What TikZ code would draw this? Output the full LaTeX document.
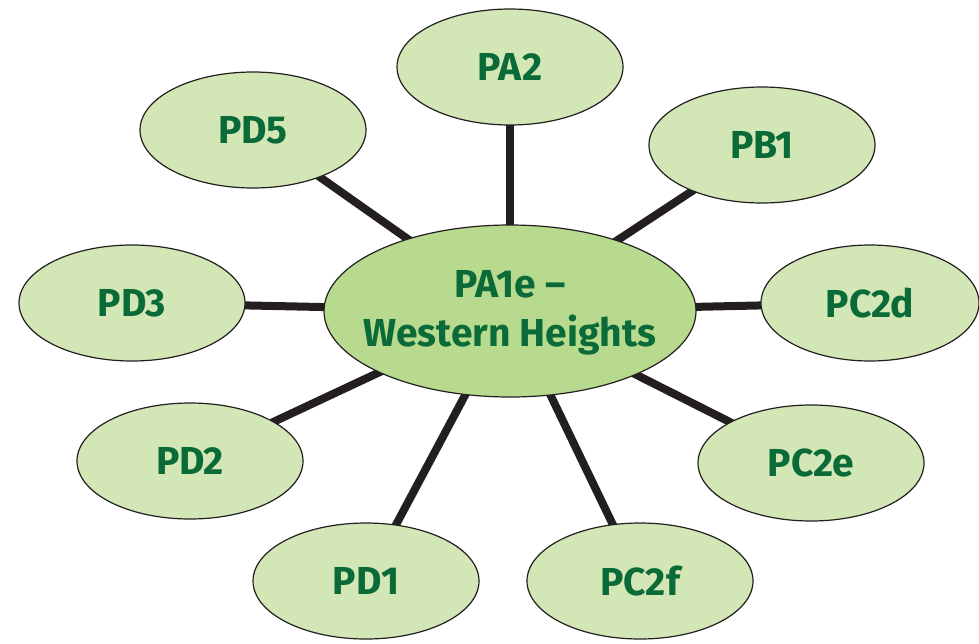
\documentclass[tikz,border=0pt]{standalone}
\usepackage{fontspec}
\setmainfont{Fira Sans}
\usetikzlibrary{shapes.geometric,backgrounds}
\definecolor{labelgreen}{HTML}{0B6B38}
\definecolor{leaffill}{HTML}{D3E6B6}
\definecolor{hubfill}{HTML}{B8DA8E}
\definecolor{spoke}{HTML}{231F20}
\tikzset{
  leaf/.style={ellipse, draw=spoke, line width=1.2pt, fill=leaffill,
    minimum width=226pt, minimum height=116pt, inner sep=0pt,
    text=labelgreen, font=\fontsize{39}{46}\selectfont\bfseries},
  hub/.style={ellipse, draw=spoke, line width=1.2pt, fill=hubfill,
    minimum width=372pt, minimum height=172pt, inner sep=0pt},
  hubtext/.style={inner sep=0pt, align=center, text=labelgreen,
    font=\fontsize{39}{49}\selectfont\bfseries},
  link/.style={line width=8pt, draw=spoke}
}
\begin{document}
\begin{tikzpicture}[x=1pt,y=-1pt]
\useasboundingbox (0,0) rectangle (979,643);
\node[hub]  (hub)  at (510,311) {};
\node[hubtext] (hublabel) at (510,313) {PA1e --\\Western Heights};
\node[leaf] (pa2)  at (510,67)  {PA2};
\node[leaf] (pb1)  at (762,145) {PB1};
\node[leaf] (pd5)  at (253,130) {PD5};
\node[leaf] (pd3)  at (132,303) {PD3};
\node[leaf, minimum width=218pt] (pc2d) at (870,303) {PC2d};
\node[leaf] (pd2)  at (190,461) {PD2};
\node[leaf] (pc2e) at (811,463) {PC2e};
\node[leaf] (pd1)  at (366,581) {PD1};
\node[leaf] (pc2f) at (640,581) {PC2f};
\begin{scope}[on background layer]
  \foreach \n in {pa2,pb1,pd5,pd3,pc2d,pd2,pc2e,pd1,pc2f}
    \draw[link] (hub.center) -- (\n.center);
\end{scope}
\end{tikzpicture}
\end{document}
